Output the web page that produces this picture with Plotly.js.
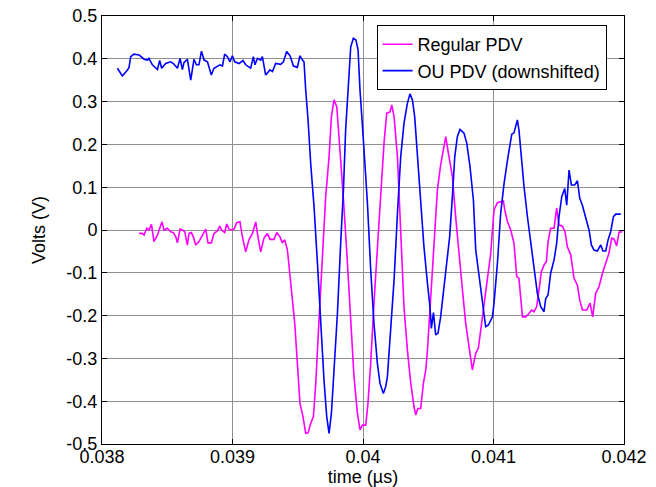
<!DOCTYPE html>
<html>
<head>
<meta charset="utf-8">
<script src="https://cdn.plot.ly/plotly-3.0.1.min.js"></script>
<style>html,body{margin:0;padding:0;background:#fff;}#chart{width:656px;height:487px;}</style>
</head>
<body>
<div id="chart"></div>
<script>
const seriesNames = ['Regular PDV', 'OU PDV (downshifted)'];

const regularT = [0.038284,0.03831,0.038322,0.038343,0.03836,0.038379,0.038398,0.038425,0.038442,0.03846,0.038475,0.038501,0.038526,0.038547,0.038565,0.038578,0.038598,0.038616,0.038634,0.038654,0.038667,0.038685,0.0387,0.038718,0.038743,0.038777,0.038795,0.038812,0.038838,0.038858,0.038884,0.038902,0.038917,0.03894,0.038956,0.038973,0.038992,0.039012,0.039032,0.039057,0.039076,0.039101,0.039126,0.039153,0.039178,0.039195,0.039216,0.039241,0.039267,0.039287,0.039318,0.039339,0.039364,0.039382,0.0394,0.039421,0.039441,0.039459,0.039477,0.039497,0.039517,0.03954,0.039561,0.039579,0.039599,0.03962,0.039638,0.039663,0.039689,0.039714,0.03974,0.039758,0.039778,0.039799,0.039816,0.039835,0.039854,0.039881,0.039906,0.039931,0.039957,0.039977,0.039995,0.040021,0.040038,0.040059,0.040084,0.04011,0.040136,0.040161,0.040182,0.040207,0.04022,0.040238,0.040264,0.040289,0.040314,0.04034,0.040366,0.040391,0.040404,0.040421,0.040442,0.040463,0.040481,0.040494,0.040519,0.040544,0.04057,0.040595,0.040621,0.040634,0.040659,0.040685,0.04071,0.040736,0.040762,0.040787,0.040812,0.040838,0.040864,0.040884,0.040902,0.040927,0.040953,0.040979,0.040992,0.041004,0.04103,0.041055,0.041076,0.041086,0.041107,0.041132,0.041157,0.041178,0.041195,0.041222,0.041247,0.041272,0.041291,0.04131,0.041331,0.041349,0.041367,0.041387,0.041405,0.041418,0.041438,0.041464,0.041484,0.041502,0.041528,0.041548,0.041566,0.041592,0.041617,0.041643,0.041661,0.041681,0.041714,0.04174,0.04176,0.041783,0.041809,0.041835,0.04186,0.041885,0.041906,0.041923,0.041944,0.041962,0.041988];
const regularV = [-0.008,-0.008,-0.012,0.004,0,0.013,-0.027,-0.012,0.004,0.019,0,0.004,-0.004,-0.006,-0.016,-0.030,0.002,0,-0.004,-0.035,-0.008,-0.006,-0.016,-0.035,-0.027,-0.008,0.002,-0.030,-0.030,-0.008,-0.002,0.009,0,-0.006,0.014,0.002,0,0.002,0.017,0.019,-0.016,-0.051,-0.023,-0.008,0.019,-0.016,-0.051,-0.019,-0.008,-0.022,-0.022,-0.006,-0.016,-0.030,-0.023,-0.047,-0.109,-0.164,-0.218,-0.311,-0.405,-0.436,-0.475,-0.474,-0.452,-0.436,-0.358,-0.210,-0.062,0.078,0.171,0.265,0.304,0.288,0.218,0.140,0.054,-0.078,-0.226,-0.343,-0.428,-0.467,-0.456,-0.456,-0.405,-0.311,-0.171,-0.039,0.086,0.203,0.273,0.276,0.292,0.265,0.171,0,-0.179,-0.280,-0.358,-0.413,-0.432,-0.417,-0.417,-0.358,-0.327,-0.280,-0.164,-0.023,0.093,0.152,0.199,0.218,0.171,0.125,0.031,-0.047,-0.140,-0.218,-0.273,-0.327,-0.288,-0.276,-0.234,-0.171,-0.109,-0.054,0,0.047,0.064,0.066,0.068,0.047,0.019,0,-0.031,-0.109,-0.113,-0.203,-0.203,-0.195,-0.187,-0.191,-0.179,-0.140,-0.097,-0.082,-0.074,-0.027,0.004,0.004,0.051,0.012,0.009,-0.004,-0.039,-0.058,-0.113,-0.129,-0.164,-0.187,-0.187,-0.171,-0.203,-0.148,-0.132,-0.101,-0.078,-0.054,-0.019,-0.021,-0.037,-0.005,-0.004];

const ouT = [0.038118,0.038156,0.038195,0.038207,0.03822,0.038245,0.038284,0.038322,0.038348,0.03836,0.038386,0.038425,0.038442,0.038457,0.038488,0.038526,0.038547,0.038578,0.038598,0.038616,0.038628,0.038654,0.03868,0.038705,0.038723,0.038743,0.038762,0.038782,0.038808,0.038838,0.038858,0.038884,0.038904,0.038923,0.03894,0.038961,0.038981,0.038999,0.039017,0.03905,0.03908,0.039101,0.039139,0.03916,0.039172,0.039191,0.039216,0.039229,0.039254,0.039287,0.039306,0.039331,0.039369,0.03939,0.039415,0.039441,0.039467,0.039497,0.039517,0.039536,0.039548,0.039561,0.039579,0.039599,0.039625,0.039651,0.039676,0.039701,0.039722,0.03974,0.039758,0.039778,0.039804,0.039829,0.03985,0.039867,0.039885,0.039906,0.039926,0.039946,0.039962,0.039977,0.040003,0.040034,0.040059,0.040084,0.04011,0.04013,0.040156,0.040174,0.040187,0.040212,0.040238,0.040264,0.040289,0.040314,0.04034,0.04036,0.040379,0.040396,0.040417,0.040442,0.040467,0.040494,0.040513,0.040524,0.04054,0.040557,0.040575,0.040595,0.040621,0.040647,0.040664,0.040685,0.040703,0.040723,0.040743,0.040774,0.040795,0.04082,0.040846,0.040864,0.040889,0.040915,0.04094,0.040961,0.040992,0.041004,0.04103,0.041055,0.041081,0.041111,0.04114,0.041157,0.04117,0.041183,0.041195,0.041209,0.041234,0.04126,0.041285,0.04131,0.041336,0.041362,0.041387,0.0414,0.041418,0.041438,0.041464,0.041484,0.041502,0.041523,0.041546,0.041561,0.041579,0.041597,0.041622,0.041643,0.041661,0.041681,0.041707,0.041732,0.04175,0.04177,0.041796,0.041822,0.041839,0.04186,0.041878,0.041898,0.041919,0.041937,0.041975];
const ouV = [0.378,0.360,0.374,0.380,0.405,0.411,0.409,0.399,0.397,0.401,0.386,0.375,0.396,0.378,0.389,0.393,0.389,0.378,0.401,0.375,0.391,0.399,0.350,0.399,0.386,0.386,0.418,0.397,0.393,0.362,0.378,0.382,0.386,0.383,0.411,0.405,0.393,0.407,0.393,0.389,0.396,0.386,0.378,0.405,0.386,0.401,0.397,0.405,0.362,0.374,0.370,0.389,0.387,0.393,0.417,0.407,0.383,0.380,0.407,0.397,0.393,0.327,0.257,0.156,0.054,-0.078,-0.218,-0.350,-0.436,-0.475,-0.428,-0.327,-0.195,-0.031,0.093,0.234,0.335,0.428,0.448,0.444,0.421,0.327,0.210,0.062,-0.093,-0.218,-0.311,-0.358,-0.382,-0.366,-0.343,-0.234,-0.117,0.039,0.171,0.249,0.296,0.318,0.304,0.265,0.171,0.054,-0.039,-0.125,-0.179,-0.230,-0.193,-0.245,-0.241,-0.203,-0.132,-0.070,-0.016,0.078,0.171,0.218,0.235,0.226,0.203,0.148,0.070,-0.047,-0.109,-0.164,-0.226,-0.222,-0.203,-0.171,-0.078,0.039,0.109,0.171,0.224,0.227,0.241,0.257,0.234,0.179,0.101,0.031,-0.031,-0.093,-0.148,-0.179,-0.191,-0.160,-0.152,-0.101,-0.070,-0.031,0.031,0.078,0.097,0.058,0.140,0.105,0.105,0.115,0.074,0.058,0.031,0,-0.035,-0.047,-0.049,-0.035,-0.049,-0.049,-0.023,-0.004,0.031,0.037,0.037];

const xTickVals = [0.038, 0.039, 0.040, 0.041, 0.042];
const xTickText = ['0.038', '0.039', '0.04', '0.041', '0.042'];
const yTickVals = [-0.5, -0.4, -0.3, -0.2, -0.1, 0, 0.1, 0.2, 0.3, 0.4, 0.5];
const yTickText = ['-0.5', '-0.4', '-0.3', '-0.2', '-0.1', '0', '0.1', '0.2', '0.3', '0.4', '0.5'];

const traces = [
  {x: regularT, y: regularV, name: seriesNames[0], type: 'scatter', mode: 'lines',
   line: {color: '#ff00ff', width: 1.6}},
  {x: ouT, y: ouV, name: seriesNames[1], type: 'scatter', mode: 'lines',
   line: {color: '#0000ff', width: 1.6}}
];

const axisCommon = {
  ticks: 'inside', ticklen: 5, tickcolor: '#000', tickwidth: 1,
  showline: true, linecolor: '#000', linewidth: 1, mirror: 'ticks',
  showgrid: true, gridcolor: '#8f8f8f', gridwidth: 1, zeroline: false,
  tickfont: {size: 18, color: '#000'}
};

const layout = {
  width: 656, height: 487,
  margin: {l: 102, r: 32, t: 16, b: 43},
  paper_bgcolor: '#fff', plot_bgcolor: '#fff',
  font: {family: 'Arial, "Liberation Sans", sans-serif', size: 18, color: '#000'},
  showlegend: true,
  xaxis: Object.assign({}, axisCommon, {
    range: [0.038, 0.042], tickmode: 'array', tickvals: xTickVals, ticktext: xTickText,
    ticklabelstandoff: -4,
    title: {text: 'time (\u00b5s)', font: {size: 18}, standoff: 3}
  }),
  yaxis: Object.assign({}, axisCommon, {
    range: [-0.5, 0.5], tickmode: 'array', tickvals: yTickVals, ticktext: yTickText,
    title: {text: 'Volts (V)', font: {size: 18}, standoff: 16}
  }),
  legend: {
    x: 0.526, y: 0.979, xanchor: 'left', yanchor: 'top',
    bgcolor: '#fff', bordercolor: '#000', borderwidth: 1,
    font: {size: 18, color: '#000'}, tracegroupgap: 0
  }
};

Plotly.newPlot('chart', traces, layout, {staticPlot: true, displayModeBar: false});
</script>
</body>
</html>
